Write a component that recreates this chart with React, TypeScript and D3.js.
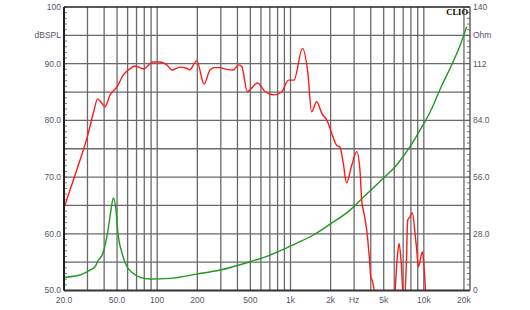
import React from "react";
import * as d3 from "d3";

// SPL response (Hz, dBSPL)
const splFreq = [20, 20.9, 24.9, 30.4, 33.2, 35.8, 38.2, 40.6, 44.3, 50, 55.6, 61, 68.1, 78.6, 93.2, 105, 118, 129, 148, 166, 175, 198, 225, 249, 271, 294, 332, 372, 410, 431, 474, 565, 643, 751, 857, 964, 1060, 1230, 1350, 1440, 1570, 1720, 1870, 2040, 2220, 2350, 2490, 2630, 2880, 3140, 3320, 3420, 3560, 3730, 3900, 4000, 4100, 4250, 4600, 5500, 6000, 6300, 6520, 6750, 7100, 7400, 7570, 7890, 8200, 8600, 8850, 9100, 9750, 9900, 10300, 10700];
const splDb = [64.5, 65.9, 71.2, 77.7, 81.3, 83.8, 83.1, 82.4, 84.5, 85.9, 88.0, 88.9, 89.6, 89.1, 90.3, 90.3, 89.8, 88.9, 89.4, 89.2, 88.9, 90.5, 86.4, 88.9, 89.3, 89.3, 89.0, 88.9, 89.8, 89.5, 85.1, 86.6, 85.1, 84.5, 85.0, 87.1, 87.1, 92.7, 88.3, 81.5, 83.3, 81.2, 80.1, 77.7, 75.6, 75.3, 72.4, 69.0, 72.1, 74.5, 71.2, 65.9, 63.6, 60.6, 55.9, 52.4, 51.8, 50.0, 45, 44, 48, 55.3, 58.3, 55.3, 47, 55, 62.4, 63.0, 63.7, 60.0, 57.1, 54.2, 56.8, 55.9, 50.0, 44];

// Impedance (Hz, Ohm)
const impFreq = [20, 26.4, 31.3, 34.2, 36, 39.2, 42.8, 45, 46.9, 49.1, 50.8, 54.5, 59.4, 65.9, 74.3, 88.4, 125, 198, 296, 497, 702, 884, 1004, 1178, 1484, 1979, 2797, 3324, 4970, 6262, 7886, 9376, 10200, 11500, 13500, 16200, 18700, 21000];
const impOhm = [6.5, 7.65, 10.1, 11.75, 14.7, 18.4, 29.9, 39.7, 45.7, 39.7, 28.2, 18.4, 11.75, 8.5, 6.5, 5.7, 6.0, 8.1, 10.1, 14.2, 17.5, 20.3, 22.0, 24.1, 27.4, 32.8, 39.7, 44.5, 55.4, 62.0, 71.0, 79.3, 83.4, 90.0, 100.6, 111.5, 121.0, 130.3];

const xGrid = [30, 40, 50, 60, 70, 80, 90, 100, 200, 300, 400, 500, 600, 700, 800, 900, 1000, 2000, 3000, 4000, 5000, 6000, 7000, 8000, 9000, 10000, 20000];
const xTickVals = [20, 50, 100, 200, 500, 1000, 2000, 3000, 5000, 10000, 20000];
const xTickLabels = ["20.0", "50.0", "100", "200", "500", "1k", "2k", "Hz", "5k", "10k", "20k"];
const leftTickVals = [100, 95, 90, 80, 70, 60, 50];
const leftTickLabels = ["100", "dBSPL", "90.0", "80.0", "70.0", "60.0", "50.0"];
const rightTickVals = [140, 126, 112, 84, 56, 28, 0];
const rightTickLabels = ["140", "Ohm", "112", "84.0", "56.0", "28.0", "0"];

const W = 530, H = 310;
const L = 64, R = 470, T = 7, B = 290.5;

export default function App() {
  const x = d3.scaleLog().domain([20, 22200]).range([L, R]);
  const y = d3.scaleLinear().domain([50, 100]).range([B, T]);
  const yr = d3.scaleLinear().domain([0, 140]).range([B, T]);

  const spl = splFreq.map((f, i) => [f, splDb[i]] as [number, number]);
  const imp = impFreq.map((f, i) => [f, impOhm[i]] as [number, number]);

  const splLine = d3.line<[number, number]>().x(d => x(d[0])).y(d => y(d[1])).curve(d3.curveMonotoneX);
  const impLine = d3.line<[number, number]>().x(d => x(d[0])).y(d => yr(d[1])).curve(d3.curveMonotoneX);

  const hGrid = d3.range(55, 100, 5);
  const minorL = d3.range(50, 101, 1);
  const minorR = d3.range(0, 141, 2.8);
  const labelColor = "#55556a";
  const font = "'Liberation Sans', Arial, sans-serif";

  return (
    <svg width={W} height={H} style={{ position: "absolute", left: 0, top: 0, background: "#fff" }}>
      <defs>
        <clipPath id="plot">
          <rect x={L} y={T} width={R - L} height={B - T} />
        </clipPath>
      </defs>
      <rect x={0} y={0} width={W} height={H} fill="#fff" />
      {hGrid.map(v => (
        <line key={"h" + v} x1={L} x2={R} y1={y(v)} y2={y(v)} stroke="#6a6a6a" strokeWidth={1.3} />
      ))}
      {xGrid.map(v => (
        <line key={"v" + v} x1={x(v)} x2={x(v)} y1={T} y2={B} stroke="#6a6a6a" strokeWidth={1.3} />
      ))}
      <g clipPath="url(#plot)">
        <path d={impLine(imp) || ""} fill="none" stroke="#1f9a1f" strokeWidth={1.4} />
        <path d={splLine(spl) || ""} fill="none" stroke="#ff1a1a" strokeWidth={1.4} />
      </g>
      {minorL.map(v => (
        <line key={"ml" + v} x1={L} x2={L + 3} y1={y(v)} y2={y(v)} stroke="#555" strokeWidth={0.8} />
      ))}
      {minorR.map(v => (
        <line key={"mr" + v} x1={R - 3} x2={R} y1={yr(v)} y2={yr(v)} stroke="#555" strokeWidth={0.8} />
      ))}
      <line x1={L} x2={R} y1={T} y2={T} stroke="#222" strokeWidth={1.6} />
      <line x1={L} x2={R} y1={B} y2={B} stroke="#333" strokeWidth={2} />
      <line x1={L} x2={L} y1={T} y2={B} stroke="#222" strokeWidth={2} />
      <line x1={R} x2={R} y1={T} y2={B} stroke="#555" strokeWidth={1.4} />
      {leftTickVals.map((v, i) => (
        <text key={"lt" + v} x={L - 3} y={y(v)} dy="0.35em" textAnchor="end" fontFamily={font} fontSize={8.5} fill={labelColor}>
          {leftTickLabels[i]}
        </text>
      ))}
      {rightTickVals.map((v, i) => (
        <text key={"rt" + v} x={R + 3} y={yr(v)} dy="0.35em" textAnchor="start" fontFamily={font} fontSize={8.5} fill={labelColor}>
          {rightTickLabels[i]}
        </text>
      ))}
      {xTickVals.map((v, i) => (
        <text key={"xt" + v} x={x(v)} y={B + 12} textAnchor="middle" fontFamily={font} fontSize={8.5} fill={labelColor}>
          {xTickLabels[i]}
        </text>
      ))}
      <text x={R - 2} y={T + 8} textAnchor="end" fontFamily="'Liberation Serif', 'DejaVu Serif', serif" fontWeight="bold" fontSize={8.5} fill="#000">
        CLIO
      </text>
    </svg>
  );
}
